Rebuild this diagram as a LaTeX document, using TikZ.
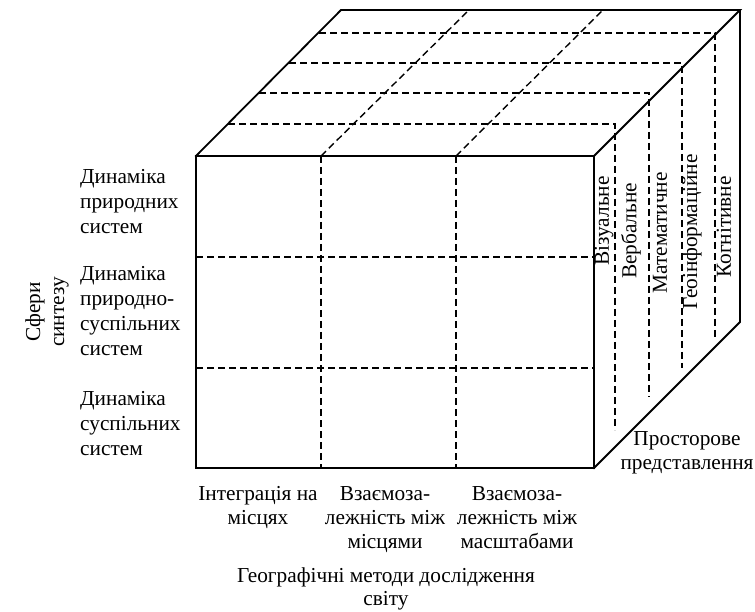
\documentclass[tikz,border=0pt]{standalone}
\usepackage{fontspec}
\setmainfont{Liberation Serif}
\begin{document}
\begin{tikzpicture}[x=1pt,y=-1pt,
  edge/.style={line width=1.8pt, line join=miter, line cap=rect},
  grid/.style={line width=1.4pt, dash pattern=on 7pt off 4pt},
  lbl/.style={font=\fontsize{21.3}{24}\selectfont, inner sep=0pt, align=center},
  rowlbl/.style={font=\fontsize{21.3}{25}\selectfont, inner sep=0pt, align=left, anchor=north west},
  ]
\useasboundingbox (0,0) rectangle (755,612);
% cube corners
\coordinate (A) at (196,156);
\coordinate (B) at (594,156);
\coordinate (C) at (594,468);
\coordinate (D) at (196,468);
\coordinate (E) at (341,10);
\coordinate (F) at (740,10);
\coordinate (G) at (740,322);
% front grid
\draw[grid] (321,156) -- (321,468);
\draw[grid] (456,156) -- (456,468);
\draw[grid] (196,257) -- (594,257);
\draw[grid] (196,368) -- (594,368);
% top grid
\draw[grid] (321,156) -- (469,10);
\draw[grid] (456,156) -- (603,10);
\draw[grid] (228,124) -- (615,124) -- (615,430);
\draw[grid] (259,93) -- (649,93) -- (649,397);
\draw[grid] (289,63) -- (682,63) -- (682,368);
\draw[grid] (319,33) -- (715,33) -- (715,338);
% outline
\draw[edge] (A) rectangle (C);
\draw[edge] (A) -- (E) -- (F) -- (B);
\draw[edge] (F) -- (G) -- (C);
% labels
\node[lbl, rotate=90] (sfery) at (47,312) {Сфери\\синтезу};
\node[rowlbl] (r1) at (80,169) {Динаміка\\природних\\систем};
\node[rowlbl] (r2) at (80,266) {Динаміка\\природно-\\суспільних\\систем};
\node[rowlbl] (r3) at (80,391) {Динаміка\\суспільних\\систем};
\node[lbl, anchor=north] (c1) at (258,486) {Інтеграція на\\місцях};
\node[lbl, anchor=north] (c2) at (385,486) {Взаємоза-\\лежність між\\місцями};
\node[lbl, anchor=north] (c3) at (517,486) {Взаємоза-\\лежність між\\масштабами};
\node[lbl, anchor=north, font=\fontsize{21.3}{23}\selectfont] (axis) at (386,568) {Географічні методи дослідження\\світу};
\node[lbl, anchor=north] (prost) at (687,431) {Просторове\\представлення};
\node[lbl, rotate=90] (v1) at (604,221) {Візуальне};
\node[lbl, rotate=90] (v2) at (631,231) {Вербальне};
\node[lbl, rotate=90] (v3) at (660,233) {Математичне};
\node[lbl, rotate=90] (v4) at (692,232) {Геоінформаційне};
\node[lbl, rotate=90] (v5) at (724,227) {Когнітивне};
\end{tikzpicture}
\end{document}
